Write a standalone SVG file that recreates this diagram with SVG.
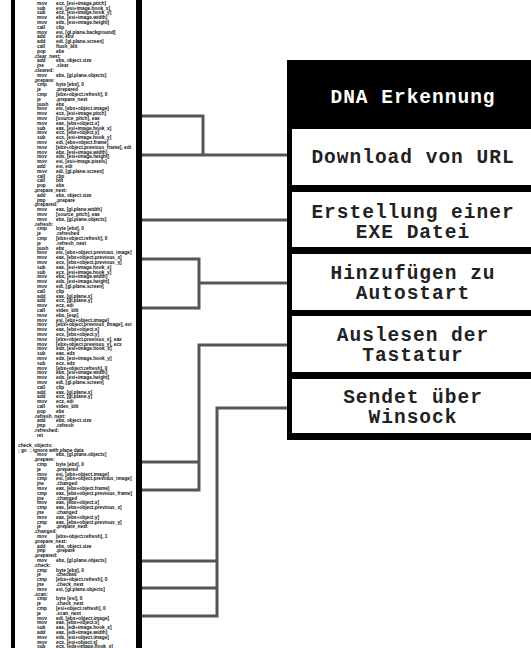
<svg xmlns="http://www.w3.org/2000/svg" width="531" height="648" viewBox="0 0 531 648">
<style>
.code{font-family:"Liberation Sans",Arial,sans-serif;font-size:4.8px;font-weight:bold;fill:#111}
.lbl{font-family:"Liberation Mono","Courier New",monospace;font-size:19.5px;letter-spacing:1px;font-weight:bold;text-anchor:middle;fill:#222}
.title{fill:#fff}
.box{fill:#fff}
.conn{fill:none;stroke:#555;stroke-width:3;stroke-linejoin:miter}
</style>
<rect width="531" height="648" fill="#fff"/>
<g id="listing">
<text class="code" y="4.8">
<tspan x="37">mov</tspan><tspan x="56">ecx, [esi+image.pitch]</tspan>
<tspan x="37" dy="4.8">sub</tspan><tspan x="56">esi, [esi+image.hook_x]</tspan>
<tspan x="37" dy="4.8">sub</tspan><tspan x="56">ecx, [esi+image.hook_y]</tspan>
<tspan x="37" dy="4.8">mov</tspan><tspan x="56">ebx, [esi+image.width]</tspan>
<tspan x="37" dy="4.8">mov</tspan><tspan x="56">edx, [esi+image.height]</tspan>
<tspan x="37" dy="4.8">call</tspan><tspan x="56">clip</tspan>
<tspan x="37" dy="4.8">mov</tspan><tspan x="56">esi, [gl.plane.background]</tspan>
<tspan x="37" dy="4.8">add</tspan><tspan x="56">esi, ebx</tspan>
<tspan x="37" dy="4.8">add</tspan><tspan x="56">edi, [gl.plane.screen]</tspan>
<tspan x="37" dy="4.8">call</tspan><tspan x="56">flush_blit</tspan>
<tspan x="37" dy="4.8">pop</tspan><tspan x="56">ebx</tspan>
<tspan x="34" dy="4.8">.clear_next:</tspan>
<tspan x="37" dy="4.8">add</tspan><tspan x="56">ebx, object.size</tspan>
<tspan x="37" dy="4.8">jne</tspan><tspan x="56">.clear</tspan>
<tspan x="34" dy="4.8">.cleared:</tspan>
<tspan x="37" dy="4.8">mov</tspan><tspan x="56">ebx, [gl.plane.objects]</tspan>
<tspan x="34" dy="4.8">.prepare:</tspan>
<tspan x="37" dy="4.8">cmp</tspan><tspan x="56">byte [ebx], 0</tspan>
<tspan x="37" dy="4.8">je</tspan><tspan x="56">.prepared</tspan>
<tspan x="37" dy="4.8">cmp</tspan><tspan x="56">[ebx+object.refresh], 0</tspan>
<tspan x="37" dy="4.8">je</tspan><tspan x="56">.prepare_next</tspan>
<tspan x="37" dy="4.8">push</tspan><tspan x="56">ebx</tspan>
<tspan x="37" dy="4.8">mov</tspan><tspan x="56">esi, [ebx+object.image]</tspan>
<tspan x="37" dy="4.8">mov</tspan><tspan x="56">ecx, [esi+image.pitch]</tspan>
<tspan x="37" dy="4.8">mov</tspan><tspan x="56">[source_pitch], eax</tspan>
<tspan x="37" dy="4.8">mov</tspan><tspan x="56">eax, [ebx+object.x]</tspan>
<tspan x="37" dy="4.8">sub</tspan><tspan x="56">eax, [esi+image.hook_x]</tspan>
<tspan x="37" dy="4.8">mov</tspan><tspan x="56">ecx, [ebx+object.y]</tspan>
<tspan x="37" dy="4.8">sub</tspan><tspan x="56">ecx, [esi+image.hook_y]</tspan>
<tspan x="37" dy="4.8">mov</tspan><tspan x="56">edi, [ebx+object.frame]</tspan>
<tspan x="37" dy="4.8">mov</tspan><tspan x="56">[ebx+object.previous_frame], edi</tspan>
<tspan x="37" dy="4.8">mov</tspan><tspan x="56">ebx, [esi+image.width]</tspan>
<tspan x="37" dy="4.8">mov</tspan><tspan x="56">edx, [esi+image.height]</tspan>
<tspan x="37" dy="4.8">mov</tspan><tspan x="56">esi, [esi+image.pixels]</tspan>
<tspan x="37" dy="4.8">add</tspan><tspan x="56">esi, edi</tspan>
<tspan x="37" dy="4.8">mov</tspan><tspan x="56">edi, [gl.plane.screen]</tspan>
<tspan x="37" dy="4.8">call</tspan><tspan x="56">clip</tspan>
<tspan x="37" dy="4.8">call</tspan><tspan x="56">blit</tspan>
<tspan x="37" dy="4.8">pop</tspan><tspan x="56">ebx</tspan>
<tspan x="34" dy="4.8">.prepare_next:</tspan>
<tspan x="37" dy="4.8">add</tspan><tspan x="56">ebx, object.size</tspan>
<tspan x="37" dy="4.8">jmp</tspan><tspan x="56">.prepare</tspan>
<tspan x="34" dy="4.8">.prepared:</tspan>
<tspan x="37" dy="4.8">mov</tspan><tspan x="56">eax, [gl.plane.width]</tspan>
<tspan x="37" dy="4.8">mov</tspan><tspan x="56">[source_pitch], eax</tspan>
<tspan x="37" dy="4.8">mov</tspan><tspan x="56">ebx, [gl.plane.objects]</tspan>
<tspan x="34" dy="4.8">.refresh:</tspan>
<tspan x="37" dy="4.8">cmp</tspan><tspan x="56">byte [ebx], 0</tspan>
<tspan x="37" dy="4.8">je</tspan><tspan x="56">.refreshed</tspan>
<tspan x="37" dy="4.8">cmp</tspan><tspan x="56">[ebx+object.refresh], 0</tspan>
<tspan x="37" dy="4.8">je</tspan><tspan x="56">.refresh_next</tspan>
<tspan x="37" dy="4.8">push</tspan><tspan x="56">ebx</tspan>
<tspan x="37" dy="4.8">mov</tspan><tspan x="56">esi, [ebx+object.previous_image]</tspan>
<tspan x="37" dy="4.8">mov</tspan><tspan x="56">eax, [ebx+object.previous_x]</tspan>
<tspan x="37" dy="4.8">mov</tspan><tspan x="56">ecx, [ebx+object.previous_y]</tspan>
<tspan x="37" dy="4.8">sub</tspan><tspan x="56">eax, [esi+image.hook_x]</tspan>
<tspan x="37" dy="4.8">sub</tspan><tspan x="56">ecx, [esi+image.hook_y]</tspan>
<tspan x="37" dy="4.8">mov</tspan><tspan x="56">ebx, [esi+image.width]</tspan>
<tspan x="37" dy="4.8">mov</tspan><tspan x="56">edx, [esi+image.height]</tspan>
<tspan x="37" dy="4.8">mov</tspan><tspan x="56">edi, [gl.plane.screen]</tspan>
<tspan x="37" dy="4.8">call</tspan><tspan x="56">clip</tspan>
<tspan x="37" dy="4.8">add</tspan><tspan x="56">eax, [gl.plane.x]</tspan>
<tspan x="37" dy="4.8">add</tspan><tspan x="56">ecx, [gl.plane.y]</tspan>
<tspan x="37" dy="4.8">mov</tspan><tspan x="56">ecx, edi</tspan>
<tspan x="37" dy="4.8">call</tspan><tspan x="56">video_blit</tspan>
<tspan x="37" dy="4.8">mov</tspan><tspan x="56">ebx, [esp]</tspan>
<tspan x="37" dy="4.8">mov</tspan><tspan x="56">esi, [ebx+object.image]</tspan>
<tspan x="37" dy="4.8">mov</tspan><tspan x="56">[ebx+object.previous_image], esi</tspan>
<tspan x="37" dy="4.8">mov</tspan><tspan x="56">eax, [ebx+object.x]</tspan>
<tspan x="37" dy="4.8">mov</tspan><tspan x="56">ecx, [ebx+object.y]</tspan>
<tspan x="37" dy="4.8">mov</tspan><tspan x="56">[ebx+object.previous_x], eax</tspan>
<tspan x="37" dy="4.8">mov</tspan><tspan x="56">[ebx+object.previous_y], ecx</tspan>
<tspan x="37" dy="4.8">mov</tspan><tspan x="56">edx, [esi+image.hook_x]</tspan>
<tspan x="37" dy="4.8">sub</tspan><tspan x="56">eax, edx</tspan>
<tspan x="37" dy="4.8">mov</tspan><tspan x="56">edx, [esi+image.hook_y]</tspan>
<tspan x="37" dy="4.8">sub</tspan><tspan x="56">ecx, edx</tspan>
<tspan x="37" dy="4.8">mov</tspan><tspan x="56">[ebx+object.refresh], 0</tspan>
<tspan x="37" dy="4.8">mov</tspan><tspan x="56">ebx, [esi+image.width]</tspan>
<tspan x="37" dy="4.8">mov</tspan><tspan x="56">edx, [esi+image.height]</tspan>
<tspan x="37" dy="4.8">mov</tspan><tspan x="56">edi, [gl.plane.screen]</tspan>
<tspan x="37" dy="4.8">call</tspan><tspan x="56">clip</tspan>
<tspan x="37" dy="4.8">add</tspan><tspan x="56">eax, [gl.plane.x]</tspan>
<tspan x="37" dy="4.8">add</tspan><tspan x="56">ecx, [gl.plane.y]</tspan>
<tspan x="37" dy="4.8">mov</tspan><tspan x="56">ecx, edi</tspan>
<tspan x="37" dy="4.8">call</tspan><tspan x="56">video_blit</tspan>
<tspan x="37" dy="4.8">pop</tspan><tspan x="56">ebx</tspan>
<tspan x="34" dy="4.8">.refresh_next:</tspan>
<tspan x="37" dy="4.8">add</tspan><tspan x="56">ebx, object.size</tspan>
<tspan x="37" dy="4.8">jmp</tspan><tspan x="56">.refresh</tspan>
<tspan x="34" dy="4.8">.refreshed:</tspan>
<tspan x="37" dy="4.8">ret</tspan>
<tspan x="18" dy="10">check_objects:</tspan>
<tspan x="18" dy="4.8">; go</tspan><tspan x="30">; ignore with plane data</tspan>
<tspan x="37" dy="4.8">mov</tspan><tspan x="56">ebx, [gl.plane.objects]</tspan>
<tspan x="34" dy="4.8">.prepare:</tspan>
<tspan x="37" dy="4.8">cmp</tspan><tspan x="56">byte [ebx], 0</tspan>
<tspan x="37" dy="4.8">je</tspan><tspan x="56">.prepared</tspan>
<tspan x="37" dy="4.8">mov</tspan><tspan x="56">esi, [ebx+object.image]</tspan>
<tspan x="37" dy="4.8">cmp</tspan><tspan x="56">esi, [ebx+object.previous_image]</tspan>
<tspan x="37" dy="4.8">jne</tspan><tspan x="56">.changed</tspan>
<tspan x="37" dy="4.8">mov</tspan><tspan x="56">eax, [ebx+object.frame]</tspan>
<tspan x="37" dy="4.8">cmp</tspan><tspan x="56">eax, [ebx+object.previous_frame]</tspan>
<tspan x="37" dy="4.8">jne</tspan><tspan x="56">.changed</tspan>
<tspan x="37" dy="4.8">mov</tspan><tspan x="56">eax, [ebx+object.x]</tspan>
<tspan x="37" dy="4.8">cmp</tspan><tspan x="56">eax, [ebx+object.previous_x]</tspan>
<tspan x="37" dy="4.8">jne</tspan><tspan x="56">.changed</tspan>
<tspan x="37" dy="4.8">mov</tspan><tspan x="56">eax, [ebx+object.y]</tspan>
<tspan x="37" dy="4.8">cmp</tspan><tspan x="56">eax, [ebx+object.previous_y]</tspan>
<tspan x="37" dy="4.8">je</tspan><tspan x="56">.prepare_next</tspan>
<tspan x="34" dy="4.8">.changed:</tspan>
<tspan x="37" dy="4.8">mov</tspan><tspan x="56">[ebx+object.refresh], 1</tspan>
<tspan x="34" dy="4.8">.prepare_next:</tspan>
<tspan x="37" dy="4.8">add</tspan><tspan x="56">ebx, object.size</tspan>
<tspan x="37" dy="4.8">jmp</tspan><tspan x="56">.prepare</tspan>
<tspan x="34" dy="4.8">.prepared:</tspan>
<tspan x="37" dy="4.8">mov</tspan><tspan x="56">ebx, [gl.plane.objects]</tspan>
<tspan x="34" dy="4.8">.check:</tspan>
<tspan x="37" dy="4.8">cmp</tspan><tspan x="56">byte [ebx], 0</tspan>
<tspan x="37" dy="4.8">je</tspan><tspan x="56">.checked</tspan>
<tspan x="37" dy="4.8">cmp</tspan><tspan x="56">[ebx+object.refresh], 0</tspan>
<tspan x="37" dy="4.8">jne</tspan><tspan x="56">.check_next</tspan>
<tspan x="37" dy="4.8">mov</tspan><tspan x="56">esi, [gl.plane.objects]</tspan>
<tspan x="34" dy="4.8">.scan:</tspan>
<tspan x="37" dy="4.8">cmp</tspan><tspan x="56">byte [esi], 0</tspan>
<tspan x="37" dy="4.8">je</tspan><tspan x="56">.check_next</tspan>
<tspan x="37" dy="4.8">cmp</tspan><tspan x="56">[esi+object.refresh], 0</tspan>
<tspan x="37" dy="4.8">je</tspan><tspan x="56">.scan_next</tspan>
<tspan x="37" dy="4.8">mov</tspan><tspan x="56">edi, [ebx+object.image]</tspan>
<tspan x="37" dy="4.8">mov</tspan><tspan x="56">eax, [ebx+object.x]</tspan>
<tspan x="37" dy="4.8">sub</tspan><tspan x="56">eax, [edi+image.hook_x]</tspan>
<tspan x="37" dy="4.8">add</tspan><tspan x="56">eax, [edi+image.width]</tspan>
<tspan x="37" dy="4.8">mov</tspan><tspan x="56">edx, [esi+object.image]</tspan>
<tspan x="37" dy="4.8">mov</tspan><tspan x="56">ecx, [esi+object.x]</tspan>
<tspan x="37" dy="4.8">sub</tspan><tspan x="56">ecx, [edx+image.hook_x]</tspan>
</text>
</g>
<g id="connectors">
<path class="conn" d="M139,116 H203 V155 M139,155 H290"/>
<path class="conn" d="M139,220 H290"/>
<path class="conn" d="M139,259 H199 V308 H139 M199,283 H290"/>
<path class="conn" d="M290,345 H199 V490 H139 M199,462 H139"/>
<path class="conn" d="M290,408 H217 V616 H139 M217,561 H139 M217,588 H139"/>
</g>
<g id="rails">
<rect x="11" y="0" width="4" height="648" fill="#000"/>
<rect x="136" y="0" width="6" height="648" fill="#000"/>
</g>
<g id="node-dna">
<rect x="287" y="60" width="250" height="380" fill="#000"/>
<text class="lbl title" x="413" y="103">DNA Erkennung</text>
</g>
<g id="node-download">
<rect class="box" x="292" y="129" width="245" height="56"/>
<text class="lbl" x="413" y="163">Download von URL</text>
</g>
<g id="node-exe">
<rect class="box" x="292" y="192" width="245" height="55"/>
<text class="lbl" x="413" y="218">Erstellung einer</text>
<text class="lbl" x="413" y="238">EXE Datei</text>
</g>
<g id="node-autostart">
<rect class="box" x="292" y="254" width="245" height="56"/>
<text class="lbl" x="413" y="279">Hinzufügen zu</text>
<text class="lbl" x="413" y="299">Autostart</text>
</g>
<g id="node-tastatur">
<rect class="box" x="292" y="316" width="245" height="56"/>
<text class="lbl" x="413" y="341">Auslesen der</text>
<text class="lbl" x="413" y="361">Tastatur</text>
</g>
<g id="node-winsock">
<rect class="box" x="292" y="379" width="245" height="54"/>
<text class="lbl" x="413" y="403">Sendet über</text>
<text class="lbl" x="413" y="423">Winsock</text>
</g>
</svg>
